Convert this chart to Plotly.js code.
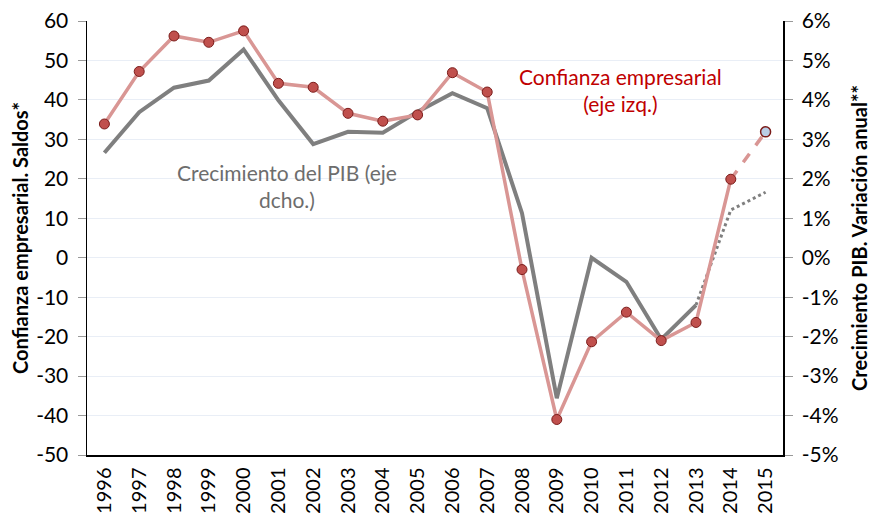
<!DOCTYPE html>
<html>
<head>
<meta charset="utf-8">
<script src="https://cdn.plot.ly/plotly-3.0.1.min.js"></script>
<style>html,body{margin:0;padding:0;background:#fff;}#chart{width:872px;height:515px;}</style>
</head>
<body>
<div id="chart"></div>
<script>
const years = ["1996","1997","1998","1999","2000","2001","2002","2003","2004","2005","2006","2007","2008","2009","2010","2011","2012","2013","2014","2015"];
const confianza = [33.9,47.2,56.2,54.6,57.5,44.2,43.2,36.6,34.6,36.2,46.9,42.0,-3.0,-41.0,-21.3,-13.8,-21.0,-16.4,19.9,31.9];
const pib = [2.66,3.69,4.31,4.49,5.28,3.99,2.88,3.19,3.17,3.70,4.17,3.79,1.13,-3.56,0.0,-0.61,-2.07,-1.2,1.21,1.66];
const leftTicks = [-50,-40,-30,-20,-10,0,10,20,30,40,50,60];
const rightTicks = [-5,-4,-3,-2,-1,0,1,2,3,4,5,6];

const lastObs = 18;   // 2014: last observed confianza
const lastPib = 17;   // 2013: last observed PIB

const FONT = "Lato, 'Open Sans', sans-serif";
const traces = [
  {x: years.slice(0, lastPib+1), y: pib.slice(0, lastPib+1), yaxis: 'y', mode: 'lines',
   line: {color: '#7f7f7f', width: 4}, hoverinfo: 'skip'},
  {x: years.slice(lastPib), y: pib.slice(lastPib), yaxis: 'y', mode: 'lines',
   line: {color: '#7f7f7f', width: 3, dash: 'dot'}, hoverinfo: 'skip'},
  {x: years.slice(lastObs), y: confianza.slice(lastObs), yaxis: 'y2', mode: 'lines',
   line: {color: '#d99694', width: 3.5, dash: 'dash'}, hoverinfo: 'skip'},
  {x: years.slice(0, lastObs+1), y: confianza.slice(0, lastObs+1), yaxis: 'y2', mode: 'lines+markers',
   line: {color: '#d99694', width: 3.5},
   marker: {size: 10, color: '#c0504d', line: {color: '#7b1c1a', width: 1}}, hoverinfo: 'skip'},
  {x: years.slice(lastObs+1), y: confianza.slice(lastObs+1), yaxis: 'y2', mode: 'markers',
   marker: {size: 10, color: '#b9cde5', line: {color: '#7b1c1a', width: 1.5}}, hoverinfo: 'skip'}
];

const layout = {
  width: 872, height: 515,
  margin: {l: 87, r: 89, t: 21, b: 60},
  paper_bgcolor: '#fff', plot_bgcolor: '#fff',
  showlegend: false,
  font: {family: FONT, size: 21, color: '#000'},
  xaxis: {type: 'category', range: [-0.5, 19.5], tickangle: -90, showgrid: false,
    showline: true, linecolor: '#000', linewidth: 1.5, ticks: '', zeroline: false,
    ticklabelstandoff: 3,
    tickfont: {family: FONT, size: 20, color: '#000'}, fixedrange: true},
  yaxis: {side: 'right', range: [-5, 6], tickvals: rightTicks, ticktext: rightTicks.map(v => v + '%'),
    showgrid: true, gridcolor: '#e9eef6', gridwidth: 1, zeroline: false,
    showline: true, linecolor: '#000', linewidth: 1.5, ticks: 'outside', ticklen: 8, tickcolor: '#999',
    ticklabelstandoff: 5,
    tickfont: {family: FONT, size: 21, color: '#000'},
    title: {text: '<b>Crecimiento PIB. Variación anual**</b>', font: {family: FONT, size: 20, color: '#000'}, standoff: 15}},
  yaxis2: {side: 'left', overlaying: 'y', range: [-50, 60], tickvals: leftTicks, ticktext: leftTicks.map(v => String(v)),
    showgrid: false, zeroline: false,
    showline: true, linecolor: '#000', linewidth: 1.5, ticks: 'outside', ticklen: 8, tickcolor: '#999',
    ticklabelstandoff: 5,
    tickfont: {family: FONT, size: 21, color: '#000'},
    title: {text: '<b>Confianza empresarial. Saldos*</b>', font: {family: FONT, size: 20, color: '#000'}, standoff: 2}},
  annotations: [
    {xref: 'paper', yref: 'paper', x: (287-87)/696, y: (455-186)/434, xanchor: 'center', yanchor: 'middle',
     text: 'Crecimiento del PIB (eje<br>dcho.)', showarrow: false, align: 'center',
     font: {family: FONT, size: 21, color: '#6d6d6d'}},
    {xref: 'paper', yref: 'paper', x: (620-87)/696, y: (455-90)/434, xanchor: 'center', yanchor: 'middle',
     text: 'Confianza empresarial<br>(eje izq.)', showarrow: false, align: 'center',
     font: {family: FONT, size: 21, color: '#c00000'}}
  ]
};

Plotly.newPlot('chart', traces, layout, {displayModeBar: false, staticPlot: true});
</script>
</body>
</html>
